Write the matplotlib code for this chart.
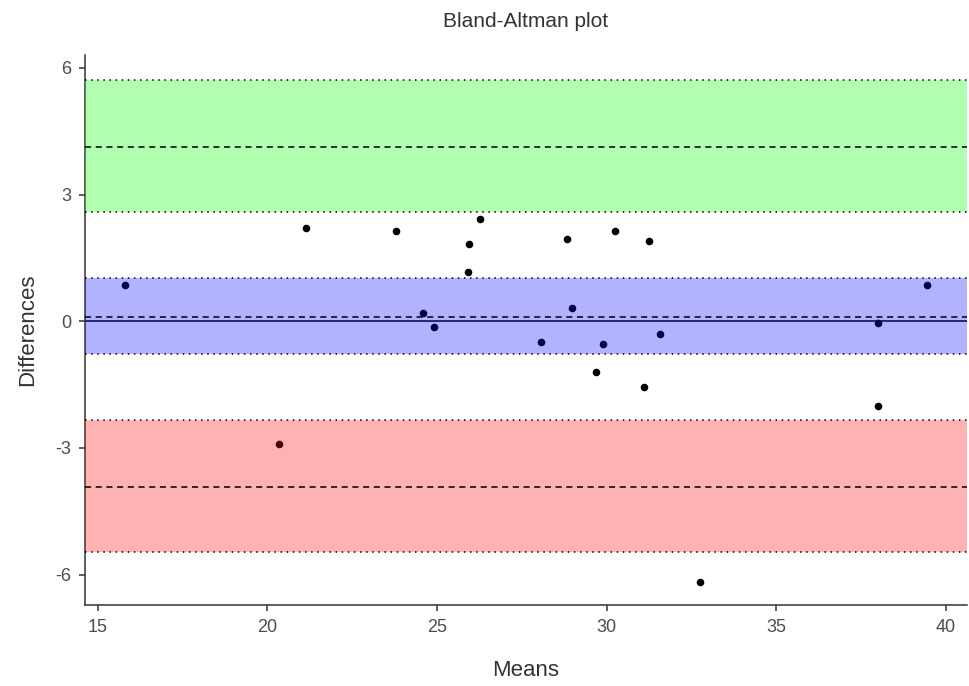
import matplotlib.pyplot as plt
import numpy as np

plt.rcParams['font.family'] = ['Liberation Sans', 'DejaVu Sans']
plt.rcParams['axes.unicode_minus'] = False

# means and differences
means = [15.79, 21.15, 23.79, 26.26, 25.94, 25.91, 24.59, 24.91, 28.82, 30.24,
         31.24, 28.97, 28.06, 29.88, 31.56, 29.68, 31.09, 38.0, 38.0, 39.44,
         20.35, 32.76]
diffs = [0.85, 2.22, 2.15, 2.43, 1.82, 1.16, 0.19, -0.14, 1.96, 2.15,
         1.91, 0.31, -0.50, -0.54, -0.31, -1.21, -1.56, -0.05, -2.01, 0.85,
         -2.91, -6.17]

bias = 0.11
bias_ci = (-0.78, 1.02)
upper_loa = 4.14
upper_ci = (2.58, 5.72)
lower_loa = -3.92
lower_ci = (-5.46, -2.34)

fig = plt.figure(figsize=(9.69, 6.86), dpi=100)
ax = fig.add_axes([0.0877, 0.118, 0.91, 0.802])

ax.scatter(means, diffs, s=30, color='black', zorder=2, linewidths=0)
ax.axhline(0, color='black', lw=1.1, zorder=2)

for lo, hi, c in [(lower_ci[0], lower_ci[1], 'red'),
                  (bias_ci[0], bias_ci[1], 'blue'),
                  (upper_ci[0], upper_ci[1], 'lime')]:
    ax.axhspan(lo, hi, color=c, alpha=0.3, lw=0, zorder=3)
    ax.axhline(lo, color='black', ls=(0, (1, 3)), lw=1.1, zorder=4)
    ax.axhline(hi, color='black', ls=(0, (1, 3)), lw=1.1, zorder=4)

for v in [bias, upper_loa, lower_loa]:
    ax.axhline(v, color='black', ls=(0, (4, 3)), lw=1.1, zorder=4)

ax.set_xlim(14.62, 40.62)
ax.set_ylim(-6.72, 6.31)
ax.set_xticks([15, 20, 25, 30, 35, 40])
ax.set_yticks([-6, -3, 0, 3, 6])

for s in ['top', 'right']:
    ax.spines[s].set_visible(False)
for s in ['left', 'bottom']:
    ax.spines[s].set_color('#333333')
    ax.spines[s].set_linewidth(1.1)
ax.tick_params(colors='#333333', labelsize=13, length=4, width=1.1, pad=6)
for lbl in ax.get_xticklabels() + ax.get_yticklabels():
    lbl.set_color('#4d4d4d')

ax.set_xlabel('Means', fontsize=16, color='#333333', labelpad=17)
ax.set_ylabel('Differences', fontsize=16, color='#333333', labelpad=12)
ax.set_title('Bland-Altman plot', fontsize=15, color='#333333', pad=20)

fig.savefig('out.png', dpi=100)
